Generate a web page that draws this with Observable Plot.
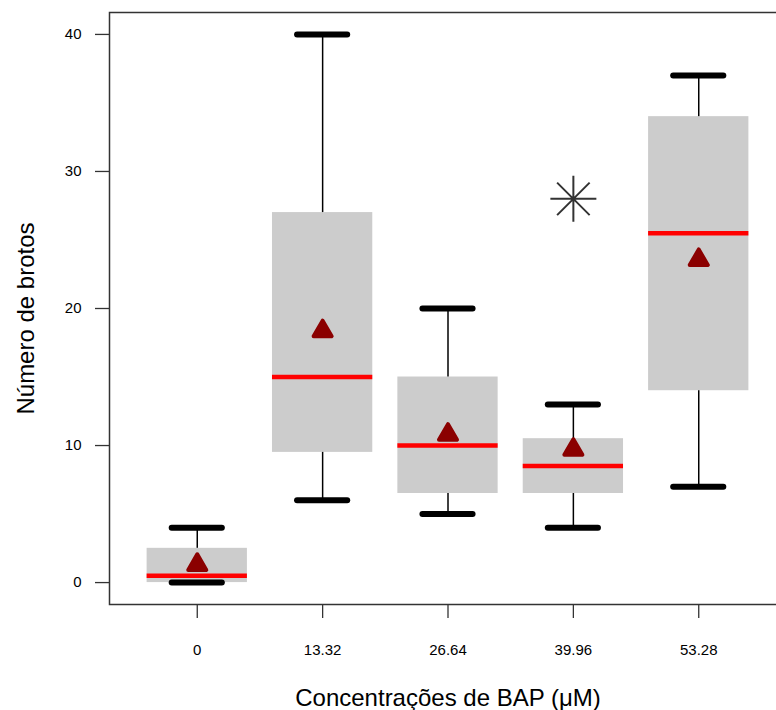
<!DOCTYPE html>
<html>
<head>
<meta charset="utf-8">
<script src="https://cdn.jsdelivr.net/npm/d3@7"></script>
<script src="https://cdn.jsdelivr.net/npm/@observablehq/plot@0.6"></script>
<style>
  html, body { margin: 0; padding: 0; background: white; overflow: hidden; }
</style>
</head>
<body>
<div id="chart"></div>
<script>
// Data
const categories = ["0", "13.32", "26.64", "39.96", "53.28"];
const lowerWhisker = [0, 6, 5, 4, 7];
const q1 = [0, 9.5, 6.5, 6.5, 14];
const median = [0.5, 15, 10, 8.5, 25.5];
const q3 = [2.5, 27, 15, 10.5, 34];
const upperWhisker = [4, 40, 20, 13, 37];
const means = [1.3, 18.35, 10.8, 9.7, 23.55];
const outlierCategories = ["39.96"];
const outlierValues = [28];
const yTicks = [0, 10, 20, 30, 40];
const xTitle = "Concentrações de BAP (μM)";
const yTitle = "Número de brotos";

const rows = categories.map((c, i) => ({
  i: i + 1, cat: c, lo: lowerWhisker[i], q1: q1[i], med: median[i],
  q3: q3[i], hi: upperWhisker[i], mean: means[i]
}));
const outliers = outlierCategories.map((c, k) => ({i: categories.indexOf(c) + 1, value: outlierValues[k]}));

const boxHalf = 0.4, capHalf = 0.2;

// 8-spoke asterisk (R pch 8)
const asterisk = {
  draw(ctx, size) {
    const r = Math.sqrt(size / Math.PI);
    for (let k = 0; k < 4; k++) {
      const a = k * Math.PI / 4;
      ctx.moveTo(r * Math.cos(a), r * Math.sin(a));
      ctx.lineTo(-r * Math.cos(a), -r * Math.sin(a));
    }
  }
};

const chart = Plot.plot({
  width: 786,
  height: 710,
  marginLeft: 109,
  marginRight: 0,
  marginTop: 12,
  marginBottom: 106,
  style: {fontFamily: "'Liberation Sans', Arial, Helvetica, sans-serif", fontSize: "15px", maxWidth: "none", background: "white", color: "black"},
  x: {domain: [0.3, 5.7]},
  y: {domain: [-1.6, 41.6]},
  marks: [
    Plot.rect(rows, {x1: d => d.i - boxHalf, x2: d => d.i + boxHalf, y1: "q1", y2: "q3", fill: "#cccccc"}),
    Plot.ruleX(rows, {x: "i", y1: "q3", y2: "hi", stroke: "black", strokeWidth: 1.5}),
    Plot.ruleX(rows, {x: "i", y1: "lo", y2: "q1", stroke: "black", strokeWidth: 1.5}),
    Plot.ruleY(rows, {y: "hi", x1: d => d.i - capHalf, x2: d => d.i + capHalf, stroke: "black", strokeWidth: 6, strokeLinecap: "round"}),
    Plot.ruleY(rows, {y: "lo", x1: d => d.i - capHalf, x2: d => d.i + capHalf, stroke: "black", strokeWidth: 6, strokeLinecap: "round"}),
    Plot.ruleY(rows, {y: "med", x1: d => d.i - boxHalf, x2: d => d.i + boxHalf, stroke: "#ff0000", strokeWidth: 4.5}),
    Plot.dot(rows, {x: "i", y: "mean", symbol: "triangle", r: 6.7, fill: "#8b0000", stroke: "#8b0000", strokeWidth: 4, strokeLinejoin: "round"}),
    Plot.dot(outliers, {x: "i", y: "value", symbol: asterisk, r: 23, fill: "none", stroke: "#333", strokeWidth: 2}),
    Plot.frame({stroke: "#333", strokeWidth: 1.5}),
    Plot.axisY({ticks: yTicks, tickSize: 14, tickPadding: 14, label: null, stroke: "#333", strokeWidth: 1.3, fontSize: 15}),
    Plot.axisX({ticks: rows.map(d => d.i), tickFormat: v => categories[Math.round(v) - 1], tickSize: 14, tickPadding: 26, label: null, stroke: "#333", strokeWidth: 1.3, fontSize: 15}),
    Plot.text([xTitle], {frameAnchor: "bottom", dy: 101, textAnchor: "middle", lineAnchor: "bottom", fontSize: 24, fill: "black"}),
    Plot.text([yTitle], {frameAnchor: "left", dx: -76, dy: 10, rotate: -90, textAnchor: "middle", lineAnchor: "bottom", fontSize: 24, fill: "black"})
  ]
});
document.getElementById("chart").appendChild(chart);
</script>
</body>
</html>
